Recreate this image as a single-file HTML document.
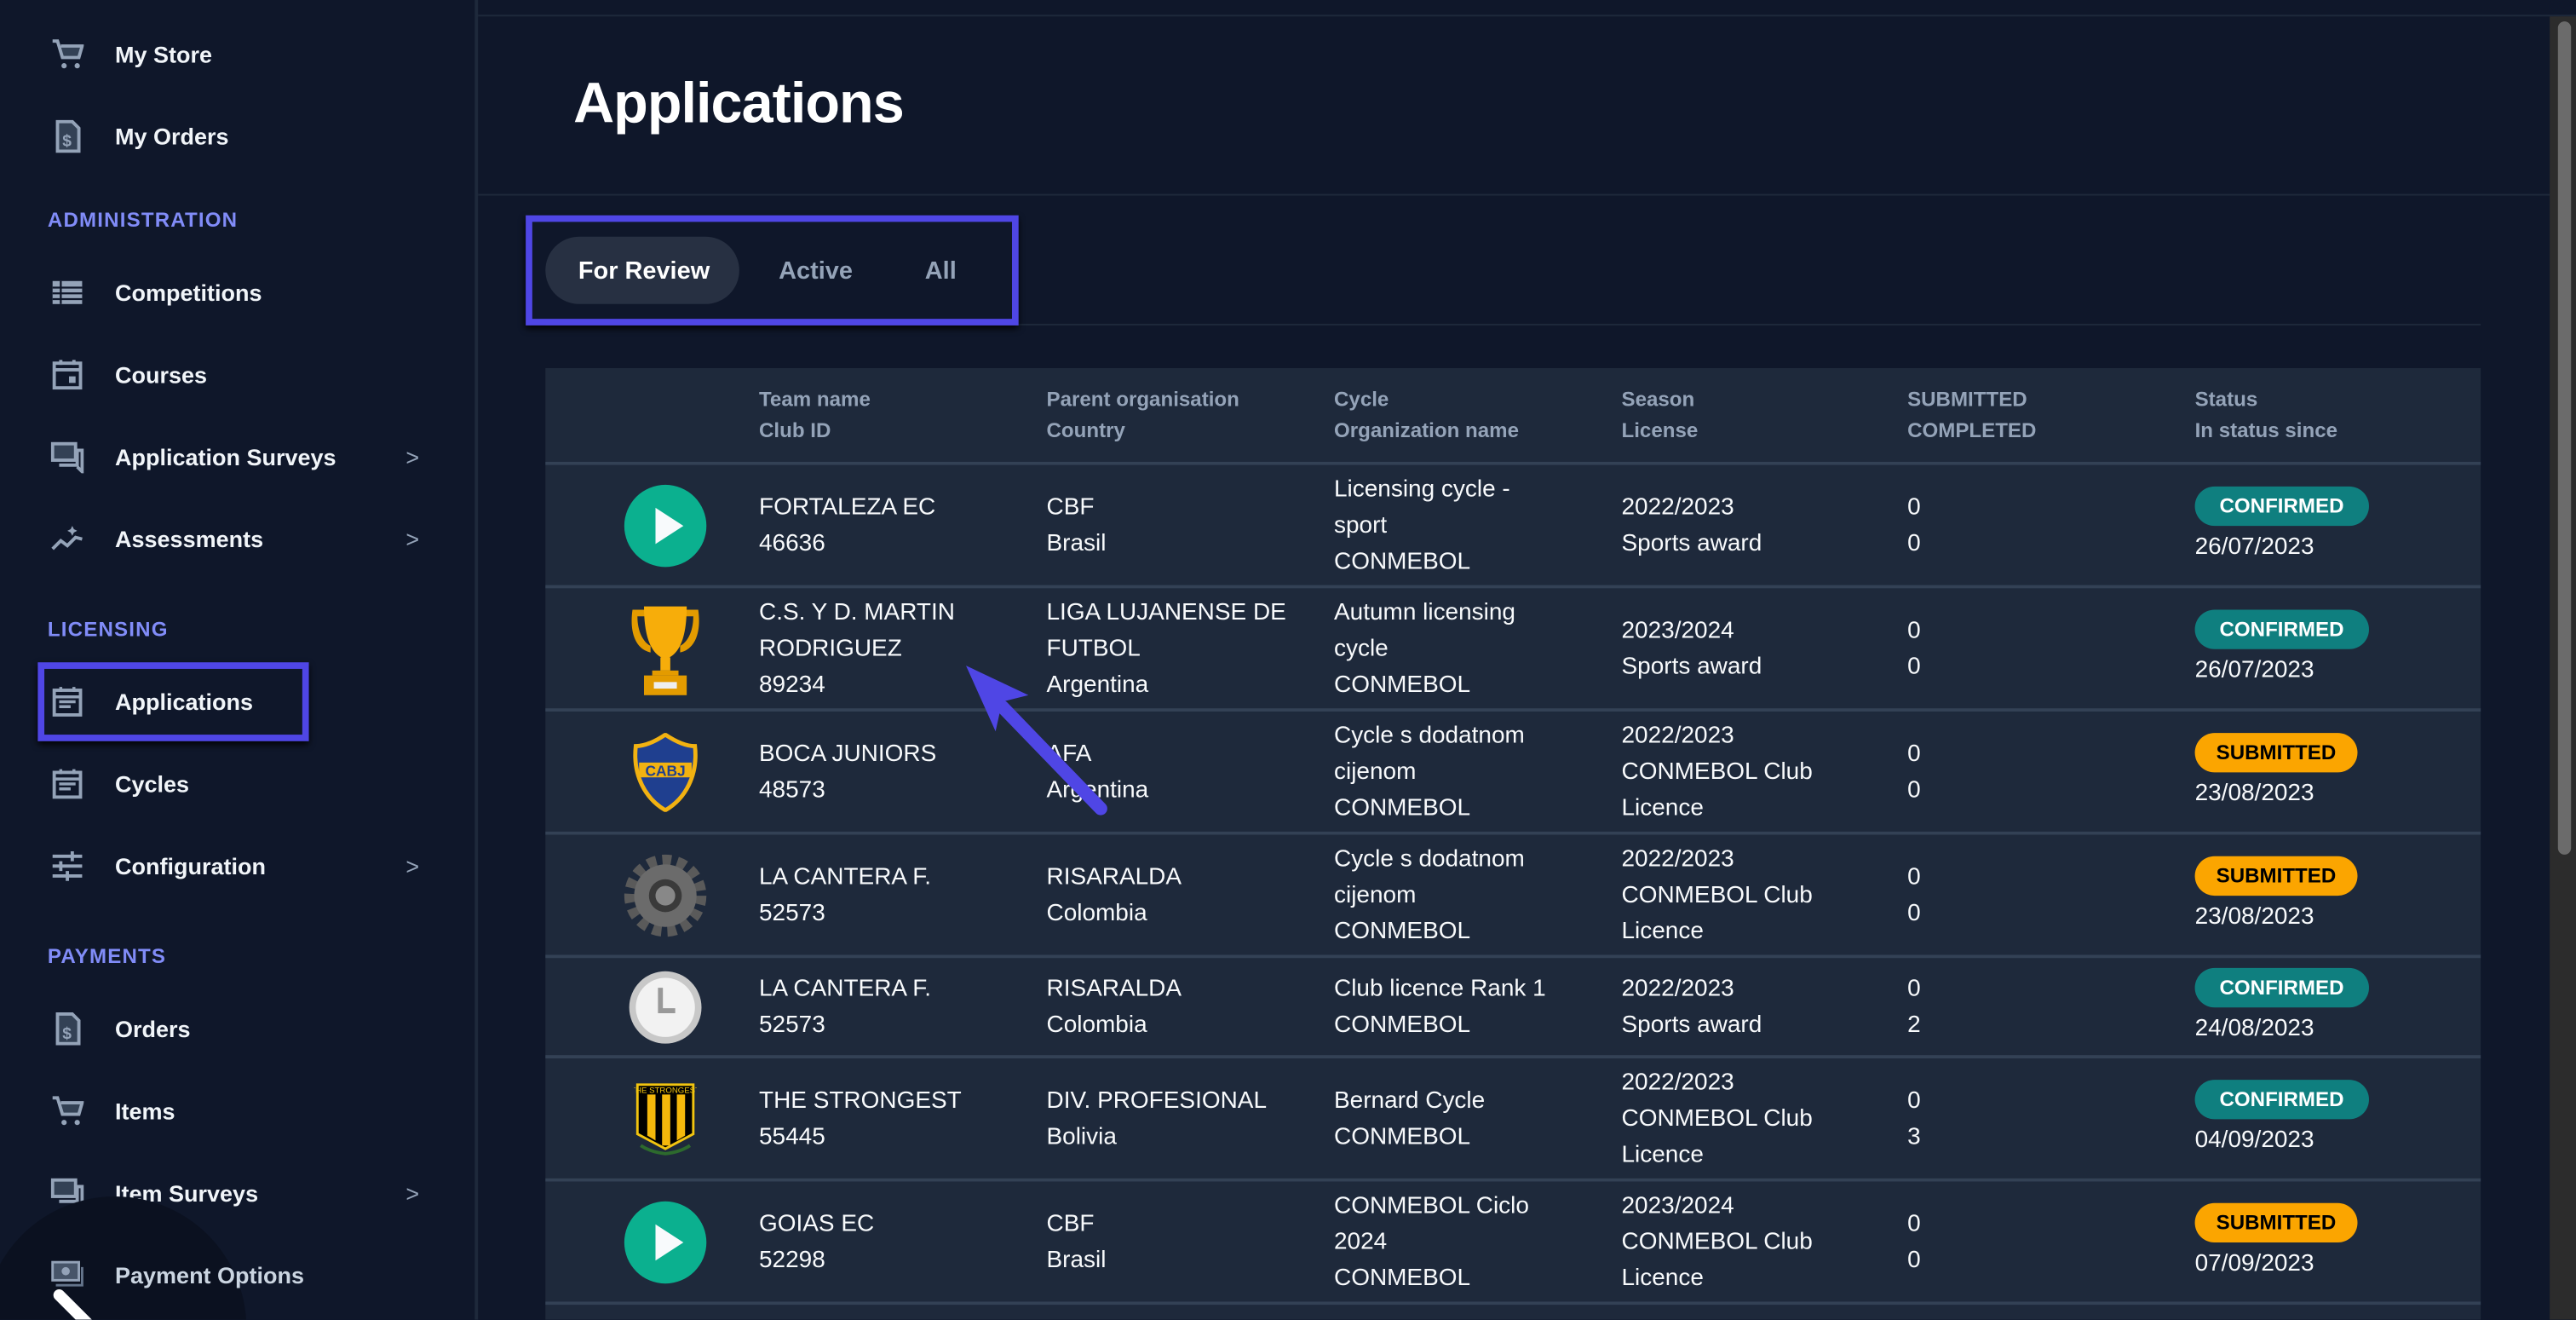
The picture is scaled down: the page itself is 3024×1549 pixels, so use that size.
<!DOCTYPE html>
<html><head><meta charset="utf-8"><style>
html,body{margin:0;padding:0;background:#0f172a;width:3024px;height:1548px;overflow:hidden}
#s{position:absolute;left:0;top:0;width:1568px;height:803px;transform:scale(1.928571);transform-origin:0 0;background:#0f172a;font-family:"Liberation Sans",sans-serif;color:#fff;overflow:hidden}
.a{position:absolute}
.nav{position:absolute;left:70px;font-size:14px;font-weight:bold;color:#f1f5f9;transform:translateY(-50%)}
.sec{position:absolute;left:29px;font-size:12.5px;font-weight:bold;color:#818cf8;letter-spacing:.6px;transform:translateY(-50%)}
.ic{position:absolute;left:31px;width:20px;height:20px;transform:translateY(-50%)}
.chev{position:absolute;left:247px;font-size:14px;color:#94a3b8;transform:translateY(-50%)}
.row{position:absolute;left:332px;width:1178px;border-bottom:2px solid #334155;background:#1e293b}
.c{position:absolute;top:0;bottom:0;display:flex;flex-direction:column;justify-content:center;font-size:14.5px;line-height:22px;color:#f8fafc}
.h{color:#94a3b8;font-size:12.5px;line-height:19px;font-weight:bold}
.b{display:inline-block;height:24px;line-height:24px;border-radius:12px;font-size:12.5px;font-weight:bold;padding:0 15px;margin-bottom:2px;width:fit-content}
.cf{background:#0f7f7f;color:#fff}
.sb{background:#fba500;color:#000;padding:0 13px}
.logo{position:absolute;left:0;width:145px;top:0;bottom:0;display:flex;align-items:center;justify-content:center}
</style></head><body><div id="s">
<!-- sidebar -->
<div class="a" style="left:289px;top:0;width:2px;height:803px;background:#1e293b"></div>
<svg class="ic" style="top:33px" viewBox="0 0 20 20"><path d="M1 2h3l3 10h10l2-7H6" fill="#334155" stroke="#94a3b8" stroke-width="2"/><circle cx="8" cy="17" r="1.6" fill="#94a3b8"/><circle cx="16" cy="17" r="1.6" fill="#94a3b8"/></svg>
<div class="nav" style="top:33px">My Store</div>
<svg class="ic" style="top:83px" viewBox="0 0 20 20"><path d="M4 1h9l4 4v14H4z" fill="#334155" stroke="#94a3b8" stroke-width="2"/><text x="7" y="16" font-size="10" fill="#94a3b8" font-weight="bold">$</text></svg>
<div class="nav" style="top:83px">My Orders</div>
<div class="sec" style="top:134px">ADMINISTRATION</div>
<svg class="ic" style="top:178px" viewBox="0 0 20 20"><rect x="1" y="3" width="18" height="14" fill="#94a3b8"/><path d="M1 7h18M1 10.5h18M1 14h18M6 3v14" stroke="#0f172a" stroke-width="1.2"/></svg>
<div class="nav" style="top:178px">Competitions</div>
<svg class="ic" style="top:228px" viewBox="0 0 20 20"><rect x="2" y="3" width="16" height="15" fill="none" stroke="#94a3b8" stroke-width="2"/><path d="M2 7h16M6 1v3M14 1v3" stroke="#94a3b8" stroke-width="2"/><rect x="11" y="11" width="4" height="4" fill="#94a3b8"/></svg>
<div class="nav" style="top:228px">Courses</div>
<svg class="ic" style="top:278px" viewBox="0 0 20 20"><rect x="1" y="2" width="14" height="10" fill="#334155" stroke="#94a3b8" stroke-width="2"/><path d="M5 15h11V6h3v13l-3-3" fill="none" stroke="#94a3b8" stroke-width="2"/></svg>
<div class="nav" style="top:278px">Application Surveys</div><div class="chev" style="top:278px">&gt;</div>
<svg class="ic" style="top:328px" viewBox="0 0 20 20"><path d="M1 16l5-5 4 3 5-5 4 1" fill="none" stroke="#94a3b8" stroke-width="2"/><path d="M13 2l1 2 2 1-2 1-1 2-1-2-2-1 2-1z" fill="#94a3b8"/></svg>
<div class="nav" style="top:328px">Assessments</div><div class="chev" style="top:328px">&gt;</div>
<div class="sec" style="top:383px">LICENSING</div>
<div class="a" style="left:23px;top:403px;width:157px;height:40px;border:4px solid #4f46e5;box-shadow:0 2px 4px #000"></div>
<svg class="ic" style="top:427px" viewBox="0 0 20 20"><rect x="2" y="3" width="16" height="15" fill="none" stroke="#94a3b8" stroke-width="2"/><path d="M2 7h16M6 1v3M14 1v3M5 10h10M5 13h7" stroke="#94a3b8" stroke-width="1.8"/></svg>
<div class="nav" style="top:427px">Applications</div>
<svg class="ic" style="top:477px" viewBox="0 0 20 20"><rect x="2" y="3" width="16" height="15" fill="none" stroke="#94a3b8" stroke-width="2"/><path d="M2 7h16M6 1v3M14 1v3M5 10h10M5 13h7" stroke="#94a3b8" stroke-width="1.8"/></svg>
<div class="nav" style="top:477px">Cycles</div>
<svg class="ic" style="top:527px" viewBox="0 0 20 20"><path d="M1 4h18M1 10h18M1 16h18" stroke="#94a3b8" stroke-width="2"/><path d="M13 1v6M6 7v6M10 13v6" stroke="#94a3b8" stroke-width="2"/></svg>
<div class="nav" style="top:527px">Configuration</div><div class="chev" style="top:527px">&gt;</div>
<div class="sec" style="top:582px">PAYMENTS</div>
<svg class="ic" style="top:626px" viewBox="0 0 20 20"><path d="M4 1h9l4 4v14H4z" fill="#334155" stroke="#94a3b8" stroke-width="2"/><text x="7" y="16" font-size="10" fill="#94a3b8" font-weight="bold">$</text></svg>
<div class="nav" style="top:626px">Orders</div>
<svg class="ic" style="top:676px" viewBox="0 0 20 20"><path d="M1 2h3l3 10h10l2-7H6" fill="#334155" stroke="#94a3b8" stroke-width="2"/><circle cx="8" cy="17" r="1.6" fill="#94a3b8"/><circle cx="16" cy="17" r="1.6" fill="#94a3b8"/></svg>
<div class="nav" style="top:676px">Items</div>
<svg class="ic" style="top:726px" viewBox="0 0 20 20"><rect x="1" y="2" width="14" height="10" fill="#334155" stroke="#94a3b8" stroke-width="2"/><path d="M5 15h11V6h3v13l-3-3" fill="none" stroke="#94a3b8" stroke-width="2"/></svg>
<div class="nav" style="top:726px">Item Surveys</div><div class="chev" style="top:726px">&gt;</div>
<div class="a" style="left:0;top:728px;width:150px;height:75px;overflow:hidden"><div style="position:absolute;left:-10px;top:0;width:160px;height:160px;border-radius:50%;background:#0b1120"></div></div>
<svg class="ic" style="top:776px" viewBox="0 0 20 20"><rect x="1" y="2" width="16" height="11" fill="#475569" stroke="#94a3b8" stroke-width="1.5"/><circle cx="9" cy="7.5" r="2.5" fill="#94a3b8"/><path d="M3 16h16V5" fill="none" stroke="#64748b" stroke-width="1.5"/></svg>
<div class="nav" style="top:776px;color:#cbd5e1">Payment Options</div>
<svg class="a" style="left:20px;top:780px" width="50" height="23" viewBox="0 0 50 23"><path d="M8 28h26M16 8l18 18" stroke="#fff" stroke-width="7" stroke-linecap="round"/></svg>
<!-- main -->
<div class="a" style="left:291px;top:9px;width:1277px;height:1px;background:#1e293b"></div>
<div class="a" style="left:291px;top:118px;width:1261px;height:1px;background:#1e293b"></div>
<div class="a" style="left:349px;top:64px;transform:translateY(-50%);font-size:34.5px;font-weight:bold;letter-spacing:-.5px">Applications</div>
<div class="a" style="left:332px;top:197px;width:1178px;height:1px;background:#1e293b"></div>
<div class="a" style="left:320px;top:131px;width:292px;height:59px;border:4px solid #4f46e5;box-shadow:0 2px 4px #000"></div>
<div class="a" style="left:332px;top:144px;width:118px;height:41px;border-radius:21px;background:#273042"></div>
<div class="a" style="left:352px;top:165px;transform:translateY(-50%);font-size:15px;font-weight:bold">For Review</div>
<div class="a" style="left:474px;top:165px;transform:translateY(-50%);font-size:15px;font-weight:bold;color:#94a3b8">Active</div>
<div class="a" style="left:563px;top:165px;transform:translateY(-50%);font-size:15px;font-weight:bold;color:#94a3b8">All</div>
<!-- scrollbar -->
<div class="a" style="left:1552px;top:10px;width:16px;height:793px;background:#2c2c2c"></div>
<div class="a" style="left:1556.5px;top:13px;width:8.5px;height:507px;border-radius:5px;background:#6b6b6b"></div>
<!-- table -->
<div class="row" style="top:224px;height:57px">
<div class="c h" style="left:130px">Team name<br>Club ID</div>
<div class="c h" style="left:305px">Parent organisation<br>Country</div>
<div class="c h" style="left:480px">Cycle<br>Organization name</div>
<div class="c h" style="left:655px">Season<br>License</div>
<div class="c h" style="left:829px">SUBMITTED<br>COMPLETED</div>
<div class="c h" style="left:1004px">Status<br>In status since</div>
</div>
<div class="row" style="top:283px;height:73px">
<div class="logo"><svg width="52" height="52"><circle cx="26" cy="26" r="25" fill="#0bb08f"/><path d="M20 15v22l17-11z" fill="#f8fafc"/></svg></div>
<div class="c" style="left:130px">FORTALEZA EC<br>46636</div>
<div class="c" style="left:305px">CBF<br>Brasil</div>
<div class="c" style="left:480px">Licensing cycle -<br>sport<br>CONMEBOL</div>
<div class="c" style="left:655px">2022/2023<br>Sports award</div>
<div class="c" style="left:829px">0<br>0</div>
<div class="c" style="left:1004px"><span class="b cf">CONFIRMED</span>26/07/2023</div>
</div>
<div class="row" style="top:358px;height:73px">
<div class="logo"><svg width="60" height="60" viewBox="0 0 60 60"><path d="M10 6h8v4h-5c0 10 4 16 8 18v4C12 30 8 20 10 6zM50 6h-8v4h5c0 10-4 16-8 18v4c9-2 13-12 11-26z" fill="#e39b00"/><path d="M17 4h26c0 22-6 30-13 32C23 34 17 26 17 4z" fill="#f7ad0a"/><rect x="27" y="35" width="6" height="8" fill="#f7ad0a"/><rect x="22" y="43" width="16" height="3" fill="#e39b00"/><rect x="17" y="46" width="26" height="12" fill="#e39b00"/><rect x="23" y="50" width="14" height="4" fill="#eee"/></svg></div>
<div class="c" style="left:130px">C.S. Y D. MARTIN<br>RODRIGUEZ<br>89234</div>
<div class="c" style="left:305px">LIGA LUJANENSE DE<br>FUTBOL<br>Argentina</div>
<div class="c" style="left:480px">Autumn licensing<br>cycle<br>CONMEBOL</div>
<div class="c" style="left:655px">2023/2024<br>Sports award</div>
<div class="c" style="left:829px">0<br>0</div>
<div class="c" style="left:1004px"><span class="b cf">CONFIRMED</span>26/07/2023</div>
</div>
<div class="row" style="top:433px;height:73px">
<div class="logo"><svg width="42" height="48" viewBox="0 0 42 48"><path d="M3 8c6 0 12-3 18-7 6 4 12 7 18 7 2 18-6 32-18 39C9 40 1 26 3 8z" fill="#1f3f8f" stroke="#f2b211" stroke-width="2.5"/><rect x="5" y="18" width="32" height="9" fill="#f2b211"/><text x="21" y="26" text-anchor="middle" font-size="9" font-weight="bold" fill="#1f3f8f">CABJ</text></svg></div>
<div class="c" style="left:130px">BOCA JUNIORS<br>48573</div>
<div class="c" style="left:305px">AFA<br>Argentina</div>
<div class="c" style="left:480px">Cycle s dodatnom<br>cijenom<br>CONMEBOL</div>
<div class="c" style="left:655px">2022/2023<br>CONMEBOL Club<br>Licence</div>
<div class="c" style="left:829px">0<br>0</div>
<div class="c" style="left:1004px"><span class="b sb">SUBMITTED</span>23/08/2023</div>
</div>
<div class="row" style="top:508px;height:73px">
<div class="logo"><svg width="54" height="54" viewBox="0 0 54 54"><circle cx="27" cy="27" r="20" fill="none" stroke="#5a5a5a" stroke-width="10" stroke-dasharray="5 3.4"/><circle cx="27" cy="27" r="19" fill="#6b6b6b"/><circle cx="27" cy="27" r="10" fill="#3a3a3a"/><circle cx="27" cy="27" r="6" fill="#888"/></svg></div>
<div class="c" style="left:130px">LA CANTERA F.<br>52573</div>
<div class="c" style="left:305px">RISARALDA<br>Colombia</div>
<div class="c" style="left:480px">Cycle s dodatnom<br>cijenom<br>CONMEBOL</div>
<div class="c" style="left:655px">2022/2023<br>CONMEBOL Club<br>Licence</div>
<div class="c" style="left:829px">0<br>0</div>
<div class="c" style="left:1004px"><span class="b sb">SUBMITTED</span>23/08/2023</div>
</div>
<div class="row" style="top:583px;height:59px">
<div class="logo"><svg width="46" height="46"><circle cx="23" cy="23" r="22" fill="#c8c8c8"/><circle cx="23" cy="23" r="18" fill="#f2f2f2"/><path d="M20 11v14h9" fill="none" stroke="#999" stroke-width="3"/></svg></div>
<div class="c" style="left:130px">LA CANTERA F.<br>52573</div>
<div class="c" style="left:305px">RISARALDA<br>Colombia</div>
<div class="c" style="left:480px">Club licence Rank 1<br>CONMEBOL</div>
<div class="c" style="left:655px">2022/2023<br>Sports award</div>
<div class="c" style="left:829px">0<br>2</div>
<div class="c" style="left:1004px"><span class="b cf">CONFIRMED</span>24/08/2023</div>
</div>
<div class="row" style="top:644px;height:73px">
<div class="logo"><svg width="38" height="48" viewBox="0 0 38 48"><path d="M2 3h34v30L19 42 2 33z" fill="#000" stroke="#f2c40f" stroke-width="1.5"/><path d="M8 9h5v28l-5-3zM17 9h5v31h-5zM26 9h5v25l-5 3z" fill="#f4b80b"/><text x="19" y="8" text-anchor="middle" font-size="5" fill="#f2c40f">THE STRONGEST</text><path d="M4 40q6 4 15 5 9-1 15-5" stroke="#2d6a2d" stroke-width="2" fill="none"/></svg></div>
<div class="c" style="left:130px">THE STRONGEST<br>55445</div>
<div class="c" style="left:305px">DIV. PROFESIONAL<br>Bolivia</div>
<div class="c" style="left:480px">Bernard Cycle<br>CONMEBOL</div>
<div class="c" style="left:655px">2022/2023<br>CONMEBOL Club<br>Licence</div>
<div class="c" style="left:829px">0<br>3</div>
<div class="c" style="left:1004px"><span class="b cf">CONFIRMED</span>04/09/2023</div>
</div>
<div class="row" style="top:719px;height:73px">
<div class="logo"><svg width="52" height="52"><circle cx="26" cy="26" r="25" fill="#0bb08f"/><path d="M20 15v22l17-11z" fill="#f8fafc"/></svg></div>
<div class="c" style="left:130px">GOIAS EC<br>52298</div>
<div class="c" style="left:305px">CBF<br>Brasil</div>
<div class="c" style="left:480px">CONMEBOL Ciclo<br>2024<br>CONMEBOL</div>
<div class="c" style="left:655px">2023/2024<br>CONMEBOL Club<br>Licence</div>
<div class="c" style="left:829px">0<br>0</div>
<div class="c" style="left:1004px"><span class="b sb">SUBMITTED</span>07/09/2023</div>
</div>
<div class="row" style="top:794px;height:9px;border:none"></div>
<!-- arrow -->
<svg class="a" style="left:580px;top:400px" width="110" height="100" viewBox="0 0 110 100"><path d="M90 92L30 30" stroke="#4f46e5" stroke-width="8" stroke-linecap="round"/><path d="M8 5l38 18-16 4-4 18z" fill="#4f46e5"/></svg>
</div></body></html>
